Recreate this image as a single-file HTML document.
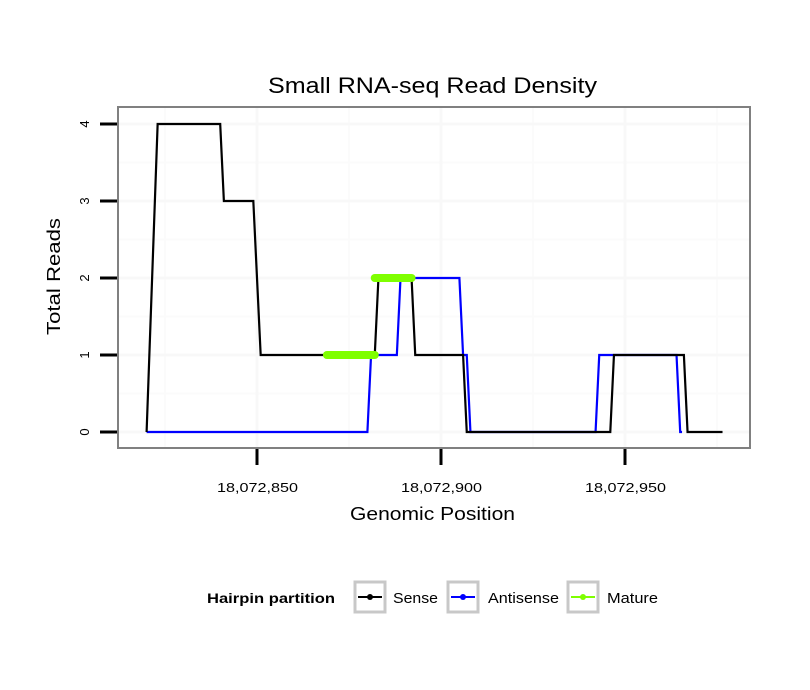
<!DOCTYPE html>
<html><head><meta charset="utf-8"><style>
body{margin:0;background:#fff;}
svg{display:block;font-family:"Liberation Sans",sans-serif;}
</style></head><body>
<svg id="chart" width="810" height="690">
<text x="268" y="93" font-size="22" textLength="329" lengthAdjust="spacingAndGlyphs">Small RNA-seq Read Density</text>
<g id="grid"></g>
<g id="series"></g>
<rect x="118" y="107" width="632" height="341" fill="none" stroke="#808080" stroke-width="2"/>
<g id="axes"></g>
<text x="350" y="520" font-size="18" textLength="165" lengthAdjust="spacingAndGlyphs">Genomic Position</text>
<text transform="translate(60,335) rotate(-90)" font-size="18" textLength="117" lengthAdjust="spacingAndGlyphs">Total Reads</text>
<g font-size="15">
<text x="207" y="603" font-weight="bold" font-size="14" textLength="128" lengthAdjust="spacingAndGlyphs">Hairpin partition</text>
<g>
<rect x="355" y="582" width="30" height="30" fill="#fff" stroke="#c8c8c8" stroke-width="3"/>
<line x1="358" y1="597" x2="382" y2="597" stroke="#000" stroke-width="2"/><circle cx="370" cy="597" r="3" fill="#000"/>
<text x="393" y="603" textLength="45" lengthAdjust="spacingAndGlyphs">Sense</text></g>
<g>
<rect x="448" y="582" width="30" height="30" fill="#fff" stroke="#c8c8c8" stroke-width="3"/>
<line x1="451" y1="597" x2="475" y2="597" stroke="#0000ff" stroke-width="2"/><circle cx="463" cy="597" r="3" fill="#0000ff"/>
<text x="488" y="603" textLength="71" lengthAdjust="spacingAndGlyphs">Antisense</text></g>
<g>
<rect x="568" y="582" width="30" height="30" fill="#fff" stroke="#c8c8c8" stroke-width="3"/>
<line x1="571" y1="597" x2="595" y2="597" stroke="#7fff00" stroke-width="2"/><circle cx="583" cy="597" r="3" fill="#7fff00"/>
<text x="607" y="603" textLength="51" lengthAdjust="spacingAndGlyphs">Mature</text></g>
</g>
</svg>
<script>
const xTicks=[18072850,18072900,18072950];
const xTickLabels=["18,072,850","18,072,900","18,072,950"];
const xMinor=[18072825,18072875,18072925,18072975];
const yTicks=[0,1,2,3,4];
const yMinor=[0.5,1.5,2.5,3.5];
const sensePos=[820,823,840,841,849,851,882,883,892,893,906,907,946,947,966,967,976.5];
const senseVal=[0,4,4,3,3,1,1,2,2,1,1,0,0,1,1,0,0];
const antiPos=[820,880,881,888,889,905,906,907,908,942,943,964,965,965.5];
const antiVal=[0,0,1,1,2,2,1,1,0,0,1,1,0,0];
const matureStart=[869,882];
const matureEnd=[882,892];
const matureVal=[1,2];
const BASE=18072000;
const X=p=>257+((p>BASE?p-BASE:p)-850)*3.68;
const Y=v=>432-v*77;
const NS="http://www.w3.org/2000/svg";
function mk(t,a,parent){const e=document.createElementNS(NS,t);for(const k in a)e.setAttribute(k,a[k]);parent.appendChild(e);return e;}
const grid=document.getElementById('grid'),axes=document.getElementById('axes'),ser=document.getElementById('series');
xMinor.forEach(p=>{const l=mk('line',{x1:X(p),x2:X(p),y1:108,y2:447,stroke:'#fbfbfb','stroke-width':2},grid);

});
yMinor.forEach(v=>{const l=mk('line',{x1:119,x2:749,y1:Y(v),y2:Y(v),stroke:'#fbfbfb','stroke-width':2},grid);

});
xTicks.forEach(p=>{const l=mk('line',{x1:X(p),x2:X(p),y1:108,y2:447,stroke:'#f8f8f8','stroke-width':3},grid);

});
yTicks.forEach(v=>{const l=mk('line',{x1:119,x2:749,y1:Y(v),y2:Y(v),stroke:'#f8f8f8','stroke-width':3},grid);

});
xTicks.forEach((p,i)=>{const t=mk('line',{x1:X(p),x2:X(p),y1:449,y2:465,stroke:'#000','stroke-width':3},axes);


const tx=mk('text',{x:X(p)-40,y:492,'font-size':13,textLength:81,lengthAdjust:'spacingAndGlyphs'},axes);tx.textContent=xTickLabels[i];

});
yTicks.forEach(v=>{const t=mk('line',{x1:100,x2:117,y1:Y(v),y2:Y(v),stroke:'#000','stroke-width':3},axes);


const tx=mk('text',{transform:`translate(89,${Y(v)}) rotate(-90)`,'font-size':13,'text-anchor':'middle'},axes);tx.textContent=v;

});
function poly(pos,val,col,name){const pts=pos.map((p,i)=>X(p)+','+Y(val[i])).join(' ');
const e=mk('polyline',{points:pts,fill:'none',stroke:col,'stroke-width':2.2},ser);

}
poly(antiPos,antiVal,'#0000ff','antisense-line');
poly(sensePos,senseVal,'#000','sense-line');
matureStart.forEach((s,i)=>{const e=mk('line',{x1:X(s),x2:X(matureEnd[i]),y1:Y(matureVal[i]),y2:Y(matureVal[i]),stroke:'#7fff00','stroke-width':8,'stroke-linecap':'round'},ser);

});
</script>
</body></html>
